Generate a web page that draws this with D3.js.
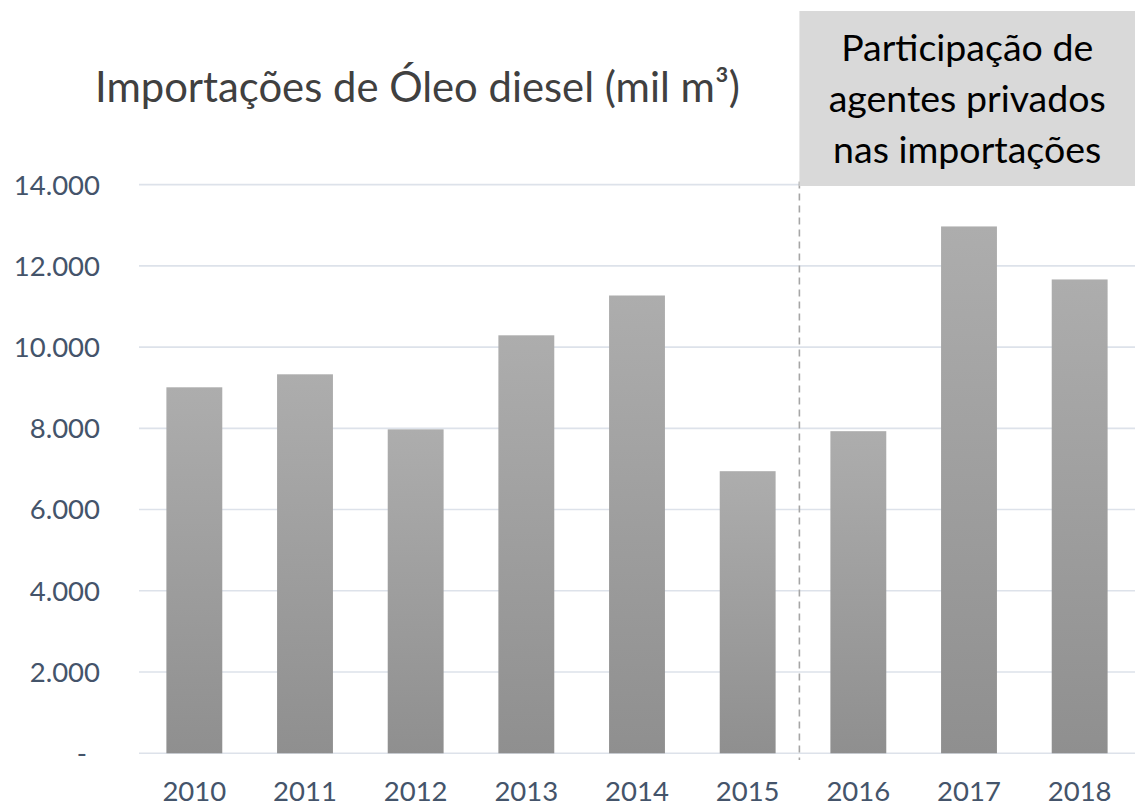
<!DOCTYPE html>
<html>
<head>
<meta charset="utf-8">
<script src="https://cdn.jsdelivr.net/npm/d3@7"></script>
<style>
  body { margin: 0; background: #fff; }
  text { font-family: Lato, "Open Sans", sans-serif; }
</style>
</head>
<body>
<script>
// data (mil m3)
var years = ["2010", "2011", "2012", "2013", "2014", "2015", "2016", "2017", "2018"];
var imports = [9010, 9330, 7975, 10290, 11270, 6945, 7930, 12970, 11665];
var yTicks = [0, 2000, 4000, 6000, 8000, 10000, 12000, 14000];
var boxLines = ["Participação de", "agentes privados", "nas importações"];

var width = 1135, height = 807;

var svg = d3.select("body").append("svg")
    .attr("width", width)
    .attr("height", height);

var x = d3.scaleBand()
    .domain(years)
    .range([139, 1135])
    .paddingInner(0.495)
    .paddingOuter(0.2475);

var y = d3.scaleLinear()
    .domain([0, 14000])
    .range([753.3, 184.6]);

// bar gradient, light at top
var grad = svg.append("defs").append("linearGradient")
    .attr("id", "barGrad")
    .attr("x1", 0).attr("y1", 0).attr("x2", 0).attr("y2", 1);
grad.append("stop").attr("offset", "0%").attr("stop-color", "#adadad");
grad.append("stop").attr("offset", "100%").attr("stop-color", "#8f8f8f");

// gridlines
svg.append("g")
    .selectAll("line")
    .data(yTicks)
    .enter().append("line")
    .attr("x1", 139)
    .attr("x2", width)
    .attr("y1", function(d) { return y(d); })
    .attr("y2", function(d) { return y(d); })
    .attr("stroke", "#dde2ea")
    .attr("stroke-width", 1.6);

// y labels
svg.append("g")
    .selectAll("text")
    .data(yTicks)
    .enter().append("text")
    .attr("x", function(d) { return d == 0 ? 87 : 100; })
    .attr("y", function(d) { return y(d); })
    .attr("dy", "0.36em")
    .attr("text-anchor", "end")
    .attr("fill", "#44546a")
    .style("font-size", "27.5px")
    .text(function(d) { return d == 0 ? "-" : d3.format(",")(d).replace(/,/g, "."); });

// bars
svg.append("g")
    .selectAll("rect")
    .data(imports)
    .enter().append("rect")
    .attr("x", function(d, i) { return x(years[i]); })
    .attr("y", function(d) { return y(d); })
    .attr("width", x.bandwidth())
    .attr("height", function(d) { return y(0) - y(d); })
    .attr("fill", "url(#barGrad)");

// year labels
svg.append("g")
    .selectAll("text")
    .data(years)
    .enter().append("text")
    .attr("x", function(d) { return x(d) + x.bandwidth() / 2; })
    .attr("y", 801)
    .attr("text-anchor", "middle")
    .attr("fill", "#44546a")
    .style("font-size", "27.5px")
    .text(function(d) { return d; });

// divider between 2015 and 2016
var divX = x("2016") - 31;
svg.append("line")
    .attr("x1", divX).attr("x2", divX)
    .attr("y1", y(14000) - 3)
    .attr("y2", 760)
    .attr("stroke", "#a6a6a6")
    .attr("stroke-width", 1.6)
    .attr("stroke-dasharray", "7,5");

// annotation box
svg.append("rect")
    .attr("x", divX)
    .attr("y", 11)
    .attr("width", width - divX)
    .attr("height", 175)
    .attr("fill", "#d9d9d9");

svg.append("g")
    .selectAll("text")
    .data(boxLines)
    .enter().append("text")
    .attr("x", (divX + width) / 2)
    .attr("y", function(d, i) { return 61 + i * 51; })
    .attr("text-anchor", "middle")
    .attr("fill", "#000")
    .style("font-size", "37.5px")
    .text(function(d) { return d; });

// title
svg.append("text")
    .attr("x", 95)
    .attr("y", 102)
    .attr("fill", "#404040")
    .style("font-size", "43px")
    .style("font-weight", 400)
    .attr("textLength", 645)
    .attr("lengthAdjust", "spacingAndGlyphs")
    .text("Importações de Óleo diesel (mil m³)");
</script>
</body>
</html>
